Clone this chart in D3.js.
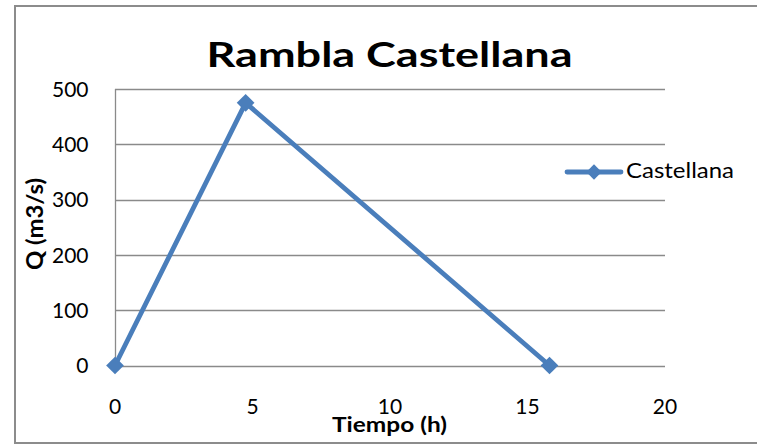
<!DOCTYPE html>
<html><head><meta charset="utf-8">
<script src="https://cdn.jsdelivr.net/npm/d3@7"></script>
<style>html,body{margin:0;padding:0;background:#fff;}svg{display:block;}</style>
</head><body>
<script>
const timeH = [0, 4.75, 15.8];
const flowQ = [0, 475, 0];
const xTicks = [0, 5, 10, 15, 20];
const yTicks = [0, 100, 200, 300, 400, 500];
const seriesName = "Castellana";
const titleText = "Rambla Castellana";
const xTitle = "Tiempo (h)";
const yTitle = "Q (m3/s)";

const W = 757, H = 446;
const font = "Lato, 'Open Sans', sans-serif";
const blue = "#4a7ebb";
const grid = "#8a8a8a";
const svg = d3.select("body").append("svg").attr("width", W).attr("height", H);

svg.append("rect").attr("x", 15).attr("y", 6).attr("width", 770).attr("height", 437)
  .attr("fill", "#fff").attr("stroke", "#8c8c8c").attr("stroke-width", 2);

const x = d3.scaleLinear().domain([0, 20]).range([115, 665]);
const y = d3.scaleLinear().domain([0, 500]).range([365.5, 89]);

// gridlines
svg.append("g").selectAll("line").data(yTicks).join("line")
  .attr("x1", 115).attr("x2", 665).attr("y1", d => Math.round(y(d)) + 0.5).attr("y2", d => Math.round(y(d)) + 0.5)
  .attr("stroke", grid).attr("stroke-width", 1.3);
svg.append("line").attr("x1", 115.5).attr("x2", 115.5).attr("y1", y(500)).attr("y2", y(0))
  .attr("stroke", grid).attr("stroke-width", 1.3);

// y tick labels
svg.append("g").selectAll("text").data(yTicks).join("text")
  .attr("x", 88.5).attr("y", d => y(d) + 7.8).attr("text-anchor", "end")
  .attr("font-family", font).attr("font-size", 21).attr("fill", "#000").text(d => d);

// x tick labels
svg.append("g").selectAll("text").data(xTicks).join("text")
  .attr("x", d => x(d)).attr("y", 414).attr("text-anchor", "middle")
  .attr("font-family", font).attr("font-size", 21).attr("fill", "#000").text(d => d);

// title
svg.append("text").attr("x", 389.5).attr("y", 67).attr("text-anchor", "middle")
  .attr("font-family", font).attr("font-weight", "bold").attr("font-size", 34)
  .attr("textLength", 366).attr("lengthAdjust", "spacingAndGlyphs").text(titleText);

// axis titles
svg.append("text").attr("x", 389.5).attr("y", 431.5).attr("text-anchor", "middle")
  .attr("font-family", font).attr("font-weight", "bold").attr("font-size", 21)
  .attr("textLength", 115).attr("lengthAdjust", "spacingAndGlyphs").text(xTitle);
svg.append("text").attr("transform", "translate(43,224) scale(1.12,1) rotate(-90)").attr("text-anchor", "middle")
  .attr("font-family", font).attr("font-weight", "bold").attr("font-size", 20)
  .attr("textLength", 92).attr("lengthAdjust", "spacingAndGlyphs").text(yTitle);

// series
const data = timeH.map((t, i) => ({t, q: flowQ[i]}));
svg.append("path").datum(data)
  .attr("d", d3.line().x(d => x(d.t)).y(d => y(d.q)))
  .attr("fill", "none").attr("stroke", blue).attr("stroke-width", 4.8).attr("stroke-linejoin", "round");
const diamond = d3.symbol().type(d3.symbolDiamond2).size(200);
svg.append("g").selectAll("path").data(data).join("path")
  .attr("transform", d => `translate(${x(d.t)},${y(d.q)})`)
  .attr("d", diamond).attr("fill", blue);

// legend
svg.append("line").attr("x1", 567).attr("x2", 621).attr("y1", 172).attr("y2", 172)
  .attr("stroke", blue).attr("stroke-width", 4.8).attr("stroke-linecap", "round");
svg.append("path").attr("transform", "translate(594,172)").attr("d", d3.symbol().type(d3.symbolDiamond2).size(150)).attr("fill", blue);
svg.append("text").attr("x", 626).attr("y", 178).attr("font-family", font).attr("font-size", 22)
  .attr("textLength", 108).attr("lengthAdjust", "spacingAndGlyphs").text(seriesName);
</script>
</body></html>
